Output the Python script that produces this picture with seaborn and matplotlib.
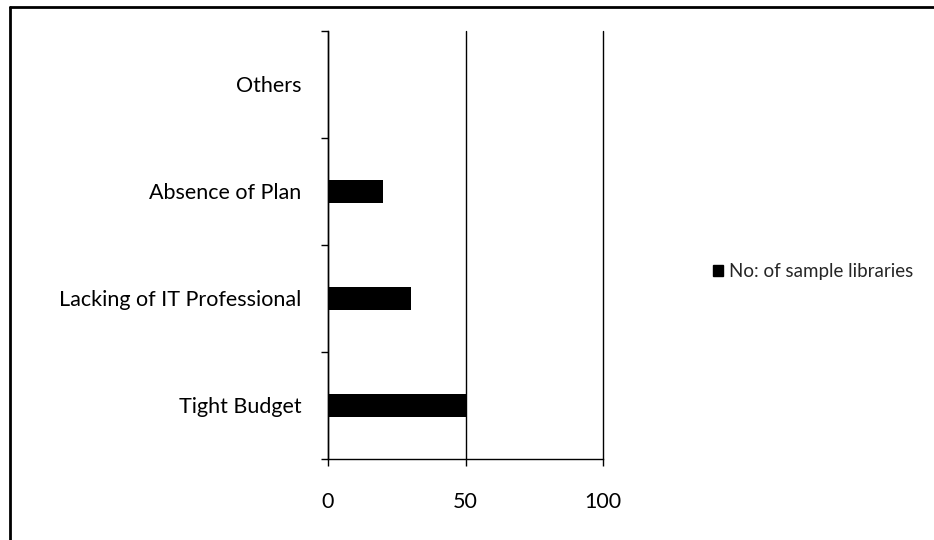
import matplotlib
matplotlib.use("Agg")
import matplotlib.pyplot as plt
from matplotlib.lines import Line2D
from matplotlib.patches import Patch
import seaborn as sns
import pandas as pd

categories = ["Others", "Absence of Plan", "Lacking of IT Professional", "Tight Budget"]
values = [0, 20, 30, 50]
series_name = "No: of sample libraries"
x_ticks = [0, 50, 100]

sns.set_theme(style="white")
plt.rcParams["font.family"] = ["Lato", "DejaVu Sans"]

df = pd.DataFrame({"category": categories, "value": values})

fig = plt.figure(figsize=(9.34, 5.4), dpi=100)
ax = fig.add_axes([0.3512, 0.150, 0.2944, 0.7926])

sns.barplot(data=df, x="value", y="category", order=categories, color="black",
            width=0.22, orient="h", ax=ax, saturation=1, linewidth=0)

ax.set_xlim(0, 100)
ax.set_ylim(len(categories) - 0.5, -0.5)
ax.set_xticks(x_ticks)
ax.set_xticklabels([str(t) for t in x_ticks])
ax.set_xlabel("")
ax.set_ylabel("")

# vertical gridlines
ax.xaxis.grid(True, color="black", linewidth=1.0)
ax.set_axisbelow(True)
for gl in ax.get_xgridlines():
    gl.set_clip_on(False)

for side in ["top", "right"]:
    ax.spines[side].set_visible(False)
for side in ["left", "bottom"]:
    ax.spines[side].set_color("black")
    ax.spines[side].set_linewidth(1.0)

ax.tick_params(axis="x", which="major", direction="out", length=5, width=1,
               color="black", pad=19, labelsize=15.5, labelcolor="black", bottom=True)
ax.tick_params(axis="y", which="major", length=0, pad=19, labelsize=15.5,
               labelcolor="black")
# category boundary ticks on the value axis
ax.set_yticks([i - 0.5 for i in range(len(categories) + 1)], minor=True)
ax.tick_params(axis="y", which="minor", direction="out", length=5, width=1,
               color="black", left=True)

handles = [Patch(facecolor="black", edgecolor="black")]
fig.legend(handles, [series_name], loc="center left",
           bbox_to_anchor=(0.745, 0.497), frameon=False, fontsize=13.5,
           handlelength=0.55, handleheight=0.55, handletextpad=0.3)

# outer chart border (left and top edges)
fig.add_artist(Line2D([0.0105, 0.0105], [0.0, 0.987], transform=fig.transFigure,
                      color="black", linewidth=2))
fig.add_artist(Line2D([0.0105, 1.0], [0.987, 0.987], transform=fig.transFigure,
                      color="black", linewidth=2))

fig.savefig("out.png", dpi=100, facecolor="white")
